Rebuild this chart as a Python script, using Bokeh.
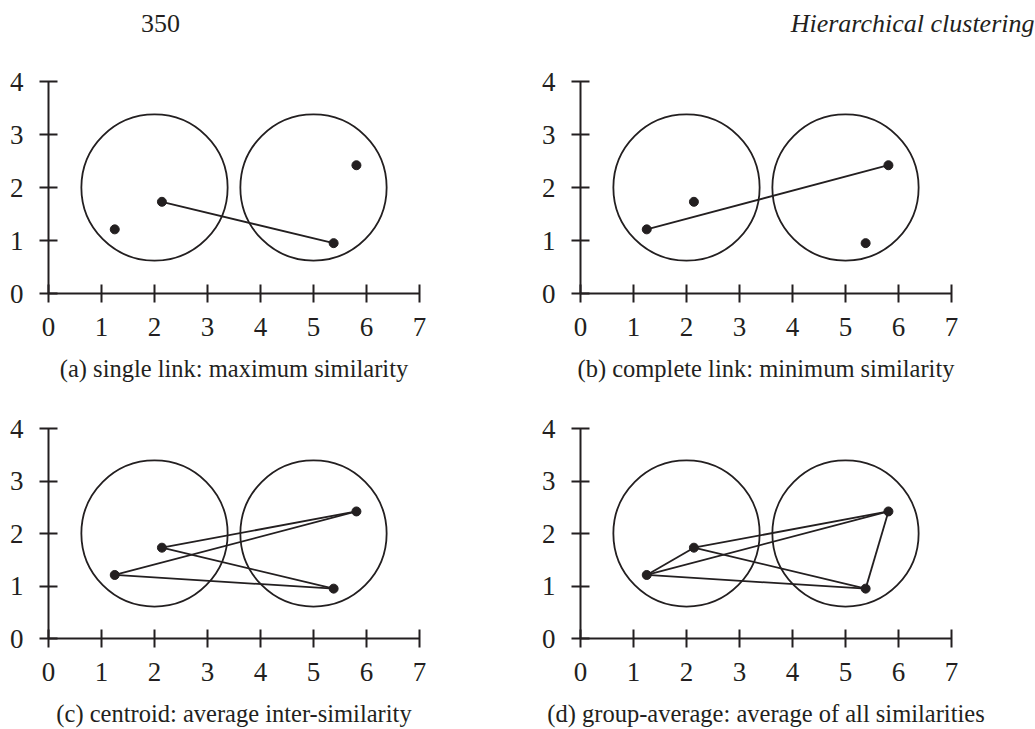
from bokeh.plotting import figure
from bokeh.layouts import column, row
from bokeh.models import FixedTicker
from bokeh.core.properties import value
from bokeh.embed import file_html
from bokeh.resources import INLINE

# ---- data ----
pts_x = [1.25, 2.14, 5.38, 5.81]
pts_y = [1.21, 1.73, 0.95, 2.42]
circle_x = [2.0, 5.0]
circle_y = [2.0, 2.0]
circle_r = 1.38
x_ticks = [0, 1, 2, 3, 4, 5, 6, 7]
y_ticks = [0, 1, 2, 3, 4]
captions = [
    "(a) single link: maximum similarity",
    "(b) complete link: minimum similarity",
    "(c) centroid: average inter-similarity",
    "(d) group-average: average of all similarities",
]
# links between point indices for each panel
links = [
    [(1, 2)],
    [(0, 3)],
    [(1, 3), (0, 3), (0, 2), (1, 2)],
    [(1, 3), (0, 3), (0, 2), (1, 2), (0, 1), (2, 3)],
]
page_number = "350"
running_head = "Hierarchical clustering"

INK = "#231f20"
FONT = "Liberation Serif"
UNIT = 53
W = 1035
HEAD_H = 50


def panel(idx, width, left, right, top, bottom, caption_standoff):
    p = figure(width=width, height=top + bottom + 4 * UNIT,
               x_range=(0, 7), y_range=(0, 4),
               output_backend="svg", toolbar_location=None,
               min_border_left=left, min_border_right=right,
               min_border_top=top, min_border_bottom=bottom)
    p.outline_line_color = None
    p.grid.visible = False
    p.background_fill_color = "white"
    p.border_fill_color = "white"
    # circles
    p.circle(x=circle_x, y=circle_y, radius=circle_r, fill_color=None,
             line_color=INK, line_width=1.8)
    # links
    x0 = [pts_x[a] for a, b in links[idx]]
    y0 = [pts_y[a] for a, b in links[idx]]
    x1 = [pts_x[b] for a, b in links[idx]]
    y1 = [pts_y[b] for a, b in links[idx]]
    p.segment(x0=x0, y0=y0, x1=x1, y1=y1, line_color=INK, line_width=1.8)
    # points
    p.scatter(x=pts_x, y=pts_y, size=9, fill_color=INK, line_color=INK)
    for ax in (p.xaxis[0], p.yaxis[0]):
        ax.axis_line_color = INK
        ax.axis_line_width = 2
        ax.major_tick_line_color = INK
        ax.major_tick_line_width = 2
        ax.major_tick_in = 9
        ax.major_tick_out = 9
        ax.minor_tick_line_color = None
        ax.major_label_text_font = FONT
        ax.major_label_text_font_size = "27px"
        ax.major_label_text_color = INK
    p.xaxis.ticker = FixedTicker(ticks=x_ticks)
    p.yaxis.ticker = FixedTicker(ticks=y_ticks)
    p.xaxis.major_label_standoff = 15
    p.yaxis.major_label_standoff = 16
    p.xaxis.axis_label = captions[idx]
    p.xaxis.axis_label_text_font = FONT
    p.xaxis.axis_label_text_font_size = "24.5px"
    p.xaxis.axis_label_text_font_style = "normal"
    p.xaxis.axis_label_text_color = INK
    p.xaxis.axis_label_standoff = caption_standoff
    return p


# running header (page number and chapter title)
header = figure(width=W, height=HEAD_H, x_range=(0, W), y_range=(0, HEAD_H),
                output_backend="svg", toolbar_location=None,
                min_border=0, x_axis_type=None, y_axis_type=None)
header.outline_line_color = None
header.grid.visible = False
header.text(x=[160], y=[HEAD_H - 23], text=[page_number],
            text_font=value(FONT), text_font_size="26px",
            text_align="center", text_baseline="middle", text_color=INK)
header.text(x=[1034], y=[HEAD_H - 23], text=[running_head],
            text_font=value(FONT), text_font_size="26px",
            text_font_style="italic",
            text_align="right", text_baseline="middle", text_color=INK)

fa = panel(0, 532, 48, 113, 31, 100, 16)
fb = panel(1, 503, 48, 84, 31, 100, 16)
fc = panel(2, 532, 48, 113, 35, 89, 16)
fd = panel(3, 503, 48, 84, 35, 89, 16)

p = column(header, row(fa, fb), row(fc, fd))

open("out.html", "w").write(file_html(p, INLINE))
